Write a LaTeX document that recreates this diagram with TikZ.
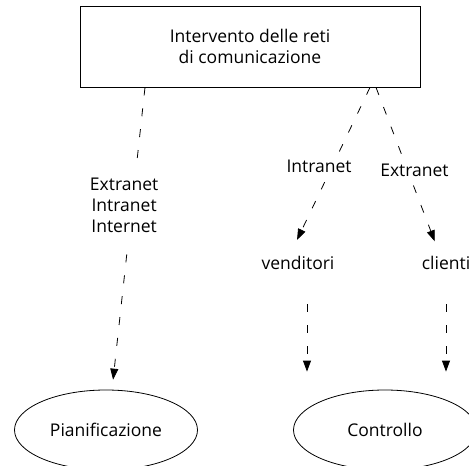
\documentclass[tikz,border=0pt]{standalone}
\usepackage{fontspec}
\setmainfont{Open Sans}
\usetikzlibrary{positioning,shapes.geometric,arrows.meta}
\tikzset{
  netbox/.style={draw, minimum width=340pt, minimum height=81pt, align=center},
  goal/.style={draw, ellipse, minimum width=183pt, minimum height=80pt},
  tag/.style={fill=white, align=center, inner xsep=2pt, inner ysep=8pt},
  link/.style={dash pattern=on 8pt off 13pt, -{Triangle[length=11pt,width=8pt]}},
}

\begin{document}
\begin{tikzpicture}[x=1pt, y=-1pt, line width=0.8pt, font=\fontsize{17.5}{21}\selectfont]
  \useasboundingbox (0,0) rectangle (469,466);

  \node[netbox] (reti) at (250,46.5) {Intervento delle reti\\di comunicazione};
  \node[goal] (pian) at (106,430) {Pianificazione};
  \node[goal] (contr) at (385,430) {Controllo};
  \node (vend) at (298,263) {venditori};
  \node (clie) at (446,263) {clienti};

  \draw[link, shorten >=10pt] ([xshift=-105pt]reti.south)
    -- node[tag, pos=0.39, xshift=-8pt, inner ysep=16pt] {Extranet\\Intranet\\Internet} ([xshift=6pt]pian.north);
  \draw[link, shorten >=14pt] ([xshift=120pt]reti.south)
    -- node[tag, pos=0.48, xshift=-13pt] (intra) {Intranet} ([xshift=-7pt]vend.north);
  \draw[link, shorten >=12pt] ([xshift=126pt]reti.south)
    -- node[tag, pos=0.50, xshift=7pt] (extra) {Extranet} ([xshift=-7pt]clie.north);

  \draw[link, shorten <=31pt, shorten >=18pt] ([xshift=9pt]vend.south) -- ([xshift=9pt]vend.south |- contr.north);
  \draw[link, shorten <=31pt, shorten >=18pt] ([xshift=0pt]clie.south) -- ([xshift=0pt]clie.south |- contr.north);
\end{tikzpicture}
\end{document}
